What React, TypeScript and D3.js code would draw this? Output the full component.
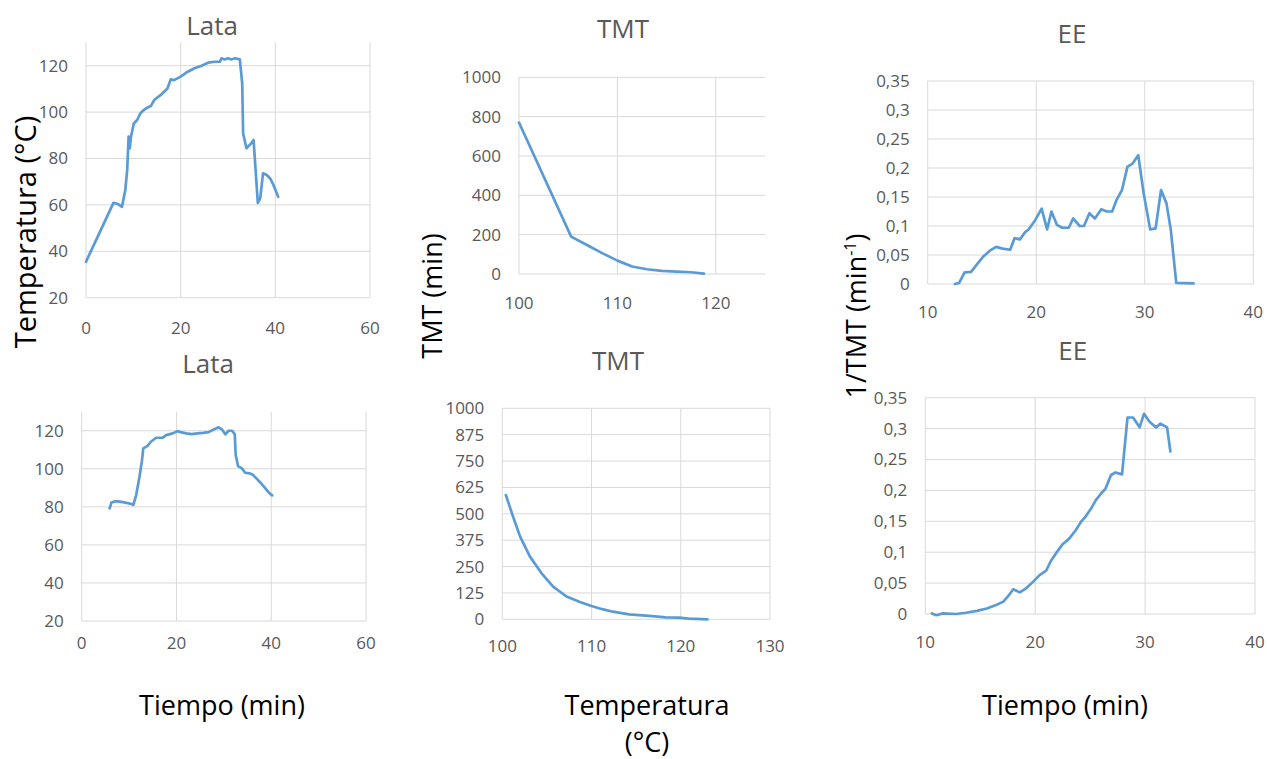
import React from "react";
import * as d3 from "d3";

// Lata (top) - tiempo (min) vs temperatura (°C)
const lataTopTime = [0, 5.8, 6.7, 7.6, 8.3, 8.7, 9.0, 9.25, 9.5, 10.1, 10.8, 11.5, 12.2, 13, 13.7, 14.4, 15.8, 17.2, 17.9, 18.6, 20, 21.5, 22.9, 24.3, 25.8, 27.2, 28.3, 28.6, 29.3, 30, 30.7, 31.5, 32.5, 33, 33.2, 33.9, 34.9, 35.4, 36.3, 36.8, 37.4, 38.2, 38.9, 39.6, 40.6];
const lataTopTemp = [35.5, 60.9, 60.4, 59.2, 66.4, 75, 89.4, 84.4, 89.4, 95.1, 96.6, 99.5, 100.9, 102, 102.6, 105.2, 107.4, 110.2, 114.1, 113.8, 115.3, 117.4, 118.9, 119.9, 121.3, 121.7, 121.7, 123.2, 122.7, 123.2, 122.7, 123.2, 122.7, 112.4, 90.8, 84.4, 86.5, 88, 60.9, 62.8, 73.6, 72.9, 71.4, 68.6, 63.5];

// TMT (top) - temperatura vs TMT (min)
const tmtTopTemp = [100, 105.3, 107, 108.5, 110, 111.5, 113, 114.5, 116, 117.5, 118.8];
const tmtTopVal = [770, 190, 145, 105, 68, 38, 24, 16, 12, 9, 2];

// EE (top) - tiempo vs 1/TMT
const eeTopTime = [12.5, 12.9, 13.4, 14.0, 14.5, 15.1, 15.7, 16.3, 16.9, 17.6, 18.0, 18.5, 19.0, 19.3, 19.9, 20.5, 21.0, 21.4, 21.9, 22.4, 23.0, 23.4, 24.0, 24.4, 24.9, 25.4, 26.0, 26.5, 27.0, 27.4, 27.9, 28.4, 28.9, 29.4, 29.9, 30.5, 31.0, 31.5, 32.0, 32.4, 32.9, 34.5];
const eeTopVal = [0, 0.002, 0.02, 0.021, 0.033, 0.047, 0.057, 0.064, 0.061, 0.059, 0.079, 0.077, 0.09, 0.094, 0.11, 0.13, 0.094, 0.125, 0.102, 0.097, 0.097, 0.113, 0.1, 0.1, 0.122, 0.113, 0.129, 0.125, 0.125, 0.145, 0.162, 0.202, 0.208, 0.222, 0.156, 0.094, 0.096, 0.162, 0.139, 0.093, 0.002, 0.001];

// Lata (bottom)
const lataBotTime = [5.9, 6.3, 7.2, 8.7, 10.5, 10.9, 11.5, 12.2, 12.7, 13.0, 13.9, 14.6, 15.7, 17.1, 17.8, 19.2, 20.2, 21.1, 22.1, 23.2, 24.4, 25.6, 26.8, 27.9, 28.9, 29.6, 30.3, 31.0, 31.7, 32.3, 32.5, 33.0, 33.8, 34.5, 35.5, 36.2, 38.0, 39.7, 40.2];
const lataBotTemp = [79.2, 82.3, 83, 82.5, 81.5, 81, 86.2, 95.8, 104, 110.7, 112, 114.2, 116.3, 116.3, 117.7, 118.6, 119.8, 119.1, 118.6, 118.2, 118.6, 118.9, 119.3, 120.7, 121.8, 120.7, 118.1, 120, 120, 118.2, 107.2, 101.4, 100.2, 97.9, 97.6, 96.7, 92, 87, 86];

// TMT (bottom)
const tmtBotTemp = [100.4, 101.2, 102.0, 103.1, 104.4, 105.7, 107.2, 108.7, 110, 111.2, 112.4, 114.2, 116.8, 118.3, 119.8, 120.9, 123];
const tmtBotVal = [589, 487, 392, 297, 218, 155, 108, 82, 63, 48, 36, 23, 15, 9, 8, 3, 0];

// EE (bottom)
const eeBotTime = [10.6, 11.0, 11.6, 12.8, 13.7, 14.7, 15.6, 16.5, 17.1, 17.5, 18.0, 18.6, 19.2, 19.8, 20.4, 21.0, 21.4, 22.0, 22.5, 23.1, 23.7, 24.2, 24.6, 25.1, 25.5, 26.0, 26.4, 26.9, 27.3, 27.9, 28.4, 28.9, 29.5, 29.9, 30.4, 31.0, 31.4, 32.0, 32.3];
const eeBotVal = [0.001, -0.002, 0.001, 0, 0.002, 0.005, 0.009, 0.015, 0.02, 0.028, 0.04, 0.035, 0.042, 0.052, 0.063, 0.07, 0.085, 0.101, 0.113, 0.122, 0.136, 0.15, 0.158, 0.171, 0.184, 0.195, 0.203, 0.225, 0.229, 0.226, 0.318, 0.318, 0.302, 0.324, 0.311, 0.302, 0.308, 0.302, 0.263];

const lataTicksX = [0, 20, 40, 60];
const lataTicksY = [20, 40, 60, 80, 100, 120];
const tmtTopTicksX = [100, 110, 120];
const tmtTopTicksY = [0, 200, 400, 600, 800, 1000];
const tmtBotTicksX = [100, 110, 120, 130];
const tmtBotTicksY = [0, 125, 250, 375, 500, 625, 750, 875, 1000];
const eeTicksX = [10, 20, 30, 40];
const eeTicksY = [0, 0.05, 0.1, 0.15, 0.2, 0.25, 0.3, 0.35];

const LINE = "#5b9bd5";
const GRID = "#d9d9d9";
const TXT = "#595959";
const FONT = "'Open Sans', sans-serif";

const comma = (v: number) => String(v).replace(".", ",");

type Cfg = {
  title: string;
  xs: number[];
  ys: number[];
  xDomain: [number, number];
  yDomain: [number, number];
  xTicks: number[];
  yTicks: number[];
  box: [number, number, number, number]; // left, right, top, bottom
  titlePos: [number, number];
  xLabelDy: number;
  fmt?: (v: number) => string;
};

const panels: Cfg[] = [
  { title: "Lata", xs: lataTopTime, ys: lataTopTemp, xDomain: [0, 60], yDomain: [20, 130], xTicks: lataTicksX, yTicks: lataTicksY, box: [86, 370, 42.5, 297.7], titlePos: [212, 35], xLabelDy: 30 },
  { title: "TMT", xs: tmtTopTemp, ys: tmtTopVal, xDomain: [100, 125], yDomain: [0, 1000], xTicks: tmtTopTicksX, yTicks: tmtTopTicksY, box: [519, 765, 77.3, 274], titlePos: [623, 38], xLabelDy: 29 },
  { title: "EE", xs: eeTopTime, ys: eeTopVal, xDomain: [10, 40], yDomain: [0, 0.35], xTicks: eeTicksX, yTicks: eeTicksY, box: [927.7, 1253.3, 81, 284], titlePos: [1072, 43], xLabelDy: 28, fmt: comma },
  { title: "Lata", xs: lataBotTime, ys: lataBotTemp, xDomain: [0, 60], yDomain: [20, 130], xTicks: lataTicksX, yTicks: lataTicksY, box: [81.7, 366, 411.7, 621], titlePos: [208, 373], xLabelDy: 22 },
  { title: "TMT", xs: tmtBotTemp, ys: tmtBotVal, xDomain: [100, 130], yDomain: [0, 1000], xTicks: tmtBotTicksX, yTicks: tmtBotTicksY, box: [502.3, 770, 408.3, 619.3], titlePos: [618, 370], xLabelDy: 27 },
  { title: "EE", xs: eeBotTime, ys: eeBotVal, xDomain: [10, 40], yDomain: [0, 0.35], xTicks: eeTicksX, yTicks: eeTicksY, box: [925.3, 1255, 397.7, 614], titlePos: [1072.7, 360], xLabelDy: 28, fmt: comma },
];

function Panel({ cfg }: { cfg: Cfg }) {
  const [l, r, t, b] = cfg.box;
  const x = d3.scaleLinear().domain(cfg.xDomain).range([l, r]);
  const y = d3.scaleLinear().domain(cfg.yDomain).range([b, t]);
  const fmt = cfg.fmt || ((v: number) => String(v));
  const path = d3
    .line<number>()
    .x((d, i) => x(cfg.xs[i]))
    .y((d) => y(d))(cfg.ys);

  return (
    <g>
      {cfg.yTicks.map((v) => (
        <line key={"h" + v} x1={l} x2={r} y1={y(v)} y2={y(v)} stroke={GRID} strokeWidth={1} />
      ))}
      {cfg.xTicks.map((v) => (
        <line key={"v" + v} x1={x(v)} x2={x(v)} y1={t} y2={b} stroke={GRID} strokeWidth={1} />
      ))}
      {cfg.yTicks.map((v) => (
        <text key={"yt" + v} x={l - 18} y={y(v)} dy="0.35em" textAnchor="end" fill={TXT} fontSize={17} fontFamily={FONT}>
          {fmt(v)}
        </text>
      ))}
      {cfg.xTicks.map((v) => (
        <text key={"xt" + v} x={x(v)} y={b + cfg.xLabelDy} dy="0.35em" textAnchor="middle" fill={TXT} fontSize={17} fontFamily={FONT}>
          {fmt(v)}
        </text>
      ))}
      <path d={path || ""} fill="none" stroke={LINE} strokeWidth={2.7} strokeLinejoin="round" strokeLinecap="round" />
      <text x={cfg.titlePos[0]} y={cfg.titlePos[1]} textAnchor="middle" fill={TXT} fontSize={26} fontFamily={FONT}>
        {cfg.title}
      </text>
    </g>
  );
}

export default function App() {
  return (
    <svg
      width={1267}
      height={759}
      style={{ position: "absolute", left: 0, top: 0, background: "#fff" }}
    >
      {panels.map((p, i) => (
        <Panel key={i} cfg={p} />
      ))}
      <text transform="translate(36,232) rotate(-90)" textAnchor="middle" fontSize={29} fontFamily={FONT} fill="#000">
        Temperatura (°C)
      </text>
      <text transform="translate(442,296) rotate(-90)" textAnchor="middle" fontSize={27} fontFamily={FONT} fill="#000">
        TMT (min)
      </text>
      <text transform="translate(866,316) rotate(-90)" textAnchor="middle" fontSize={27} fontFamily={FONT} fill="#000">
        1/TMT (min<tspan dy="-10" fontSize={16}>-1</tspan><tspan dy="10">)</tspan>
      </text>
      <text x={222} y={715} textAnchor="middle" fontSize={27} fontFamily={FONT} fill="#000">
        Tiempo (min)
      </text>
      <text x={647} y={715} textAnchor="middle" fontSize={27} fontFamily={FONT} fill="#000">
        Temperatura
      </text>
      <text x={647} y={752} textAnchor="middle" fontSize={27} fontFamily={FONT} fill="#000">
        (°C)
      </text>
      <text x={1065} y={715} textAnchor="middle" fontSize={27} fontFamily={FONT} fill="#000">
        Tiempo (min)
      </text>
    </svg>
  );
}
